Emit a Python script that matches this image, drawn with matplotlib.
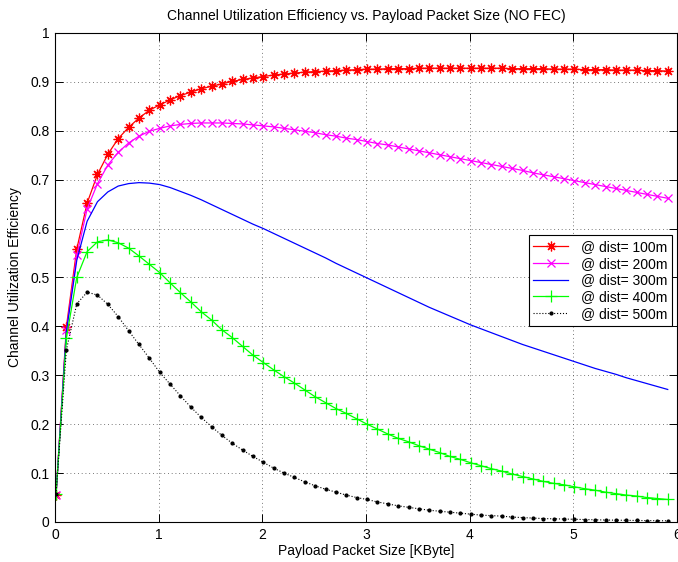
import numpy as np
import matplotlib
matplotlib.use("Agg")
import matplotlib.pyplot as plt

plt.rcParams['font.family'] = ['Liberation Sans', 'DejaVu Sans']

# payload size [KByte], one sample every 0.1 KByte
size_kb = np.round(0.01 + 0.1 * np.arange(60), 2)

eff_100m = [0.055, 0.399, 0.558, 0.652, 0.711, 0.752, 0.784, 0.807, 0.826, 0.842,
            0.853, 0.863, 0.872, 0.879, 0.886, 0.891, 0.896, 0.901, 0.905, 0.908,
            0.911, 0.914, 0.916, 0.918, 0.920, 0.921, 0.922, 0.923, 0.924, 0.925,
            0.926, 0.926, 0.927, 0.927, 0.927, 0.928, 0.928, 0.928, 0.928, 0.928,
            0.928, 0.928, 0.928, 0.928, 0.927, 0.927, 0.927, 0.927, 0.926, 0.926,
            0.926, 0.925, 0.925, 0.925, 0.924, 0.924, 0.924, 0.923, 0.923, 0.922]
eff_200m = [0.055, 0.392, 0.545, 0.640, 0.692, 0.730, 0.756, 0.775, 0.789, 0.799,
            0.805, 0.810, 0.813, 0.815, 0.816, 0.816, 0.816, 0.815, 0.814, 0.812,
            0.810, 0.808, 0.805, 0.802, 0.799, 0.796, 0.792, 0.789, 0.785, 0.782,
            0.778, 0.774, 0.771, 0.767, 0.763, 0.759, 0.755, 0.751, 0.747, 0.743,
            0.739, 0.735, 0.731, 0.727, 0.723, 0.719, 0.714, 0.710, 0.706, 0.702,
            0.698, 0.694, 0.690, 0.686, 0.682, 0.678, 0.674, 0.670, 0.666, 0.662]
eff_300m = [0.055, 0.390, 0.535, 0.615, 0.655, 0.675, 0.687, 0.692, 0.694, 0.693,
            0.690, 0.684, 0.676, 0.668, 0.659, 0.649, 0.639, 0.629, 0.619, 0.609,
            0.600, 0.590, 0.580, 0.570, 0.560, 0.550, 0.540, 0.529, 0.519, 0.509,
            0.499, 0.489, 0.479, 0.469, 0.459, 0.449, 0.439, 0.430, 0.421, 0.412,
            0.403, 0.395, 0.387, 0.379, 0.371, 0.363, 0.356, 0.349, 0.342, 0.335,
            0.328, 0.321, 0.314, 0.308, 0.302, 0.295, 0.289, 0.283, 0.277, 0.271]
eff_400m = [0.057, 0.376, 0.500, 0.553, 0.573, 0.577, 0.571, 0.560, 0.544, 0.527,
            0.510, 0.489, 0.469, 0.450, 0.430, 0.413, 0.393, 0.377, 0.359, 0.341,
            0.326, 0.311, 0.297, 0.284, 0.270, 0.256, 0.244, 0.232, 0.222, 0.211,
            0.200, 0.190, 0.180, 0.171, 0.164, 0.156, 0.149, 0.142, 0.134, 0.128,
            0.121, 0.115, 0.109, 0.104, 0.098, 0.093, 0.088, 0.083, 0.079, 0.076,
            0.072, 0.068, 0.065, 0.061, 0.058, 0.055, 0.053, 0.050, 0.048, 0.046]
eff_500m = [0.057, 0.352, 0.446, 0.470, 0.464, 0.445, 0.420, 0.391, 0.363, 0.335,
            0.306, 0.282, 0.258, 0.235, 0.214, 0.195, 0.177, 0.161, 0.147, 0.134,
            0.122, 0.110, 0.100, 0.091, 0.082, 0.074, 0.067, 0.061, 0.055, 0.050,
            0.046, 0.041, 0.037, 0.033, 0.030, 0.027, 0.024, 0.022, 0.020, 0.018,
            0.016, 0.014, 0.013, 0.012, 0.010, 0.009, 0.008, 0.007, 0.0065, 0.006,
            0.0055, 0.005, 0.0045, 0.004, 0.0037, 0.0034, 0.0031, 0.0028, 0.0026, 0.0024]

labels = ['@ dist= 100m', '@ dist= 200m', '@ dist= 300m', '@ dist= 400m', '@ dist= 500m']

fig = plt.figure(figsize=(6.78, 5.62), dpi=100)
ax = fig.add_axes([0.0811, 0.0712, 0.9175, 0.8701])

ax.plot(size_kb, eff_100m, '-', color='red', marker=(8, 2, 0), ms=7, mew=0.9, lw=0.9, label=labels[0])
ax.plot(size_kb, eff_200m, '-', color='magenta', marker='x', ms=5.5, mew=0.9, lw=0.9, label=labels[1])
ax.plot(size_kb, eff_300m, '-', color='blue', lw=0.9, label=labels[2])
ax.plot(size_kb, eff_400m, '-', color='#00ff00', marker='+', ms=8, mew=0.9, lw=0.9, label=labels[3])
ax.plot(size_kb, eff_500m, ':', color='black', marker='.', ms=4, lw=0.8, label=labels[4])

ax.set_xlim(0, 6)
ax.set_ylim(0, 1)
ax.set_xticks(range(7))
ax.set_yticks(np.round(np.arange(0, 1.01, 0.1), 1))
ax.set_yticklabels(['0', '0.1', '0.2', '0.3', '0.4', '0.5', '0.6', '0.7', '0.8', '0.9', '1'])
ax.tick_params(direction='in', length=5.5, width=0.7, top=True, right=True, labelsize=10, pad=4)
ax.grid(True, color='0.3', linestyle=(0, (1, 3.5)), linewidth=0.6)
for s in ax.spines.values():
    s.set_linewidth(0.8)

ax.set_title('Channel Utilization Efficiency vs. Payload Packet Size (NO FEC)', fontsize=10, pad=9)
ax.set_xlabel('Payload Packet Size [KByte]', fontsize=10, labelpad=2)
ax.set_ylabel('Channel Utilization Efficiency', fontsize=10, labelpad=6)

leg = ax.legend(loc='upper right', bbox_to_anchor=(0.992, 0.587), fontsize=10,
                fancybox=False, framealpha=1, edgecolor='black', handlelength=2.5,
                labelspacing=0.2, borderpad=0.35, handletextpad=0.9, borderaxespad=0)
leg.get_frame().set_linewidth(0.8)

fig.savefig('out.png', dpi=100)
